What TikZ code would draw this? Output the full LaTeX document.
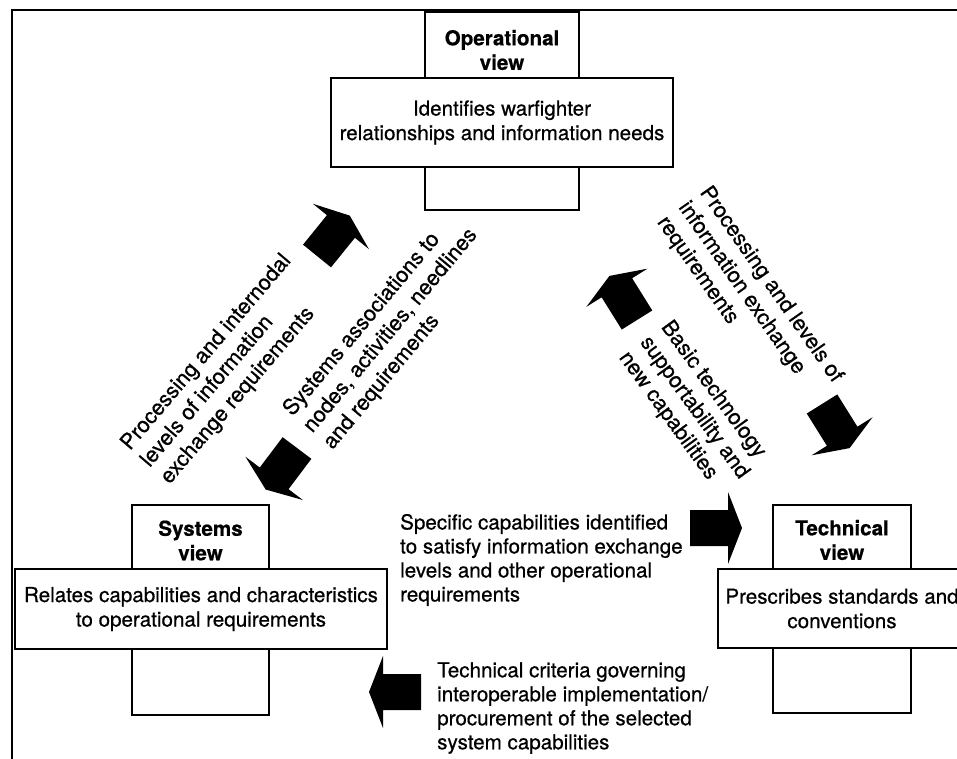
\documentclass[tikz,border=0pt]{standalone}
\usepackage{fontspec}
\setmainfont{TeX Gyre Heros}[FakeBold=0.6]
\begin{document}
\begin{tikzpicture}[x=1pt,y=-1pt,
  boxstyle/.style={draw, line width=1.8, fill=white, inner sep=0},
  titletext/.style={font=\bfseries\fontsize{20.6}{24.5}\selectfont, align=center, inner sep=0},
  desctext/.style={font=\fontsize{20.6}{24.5}\selectfont, align=center, inner sep=0},
  bodytext/.style={font=\fontsize{20.6}{24}\selectfont, align=left, inner sep=0, anchor=west},
  slanttext/.style={font=\fontsize{21.6}{26}\selectfont, align=left, inner sep=0, anchor=west},
  blockarrow/.pic={\fill[black] (0,-18) -- (38,-18) -- (38,-36) -- (52,0) -- (38,36) -- (38,18) -- (0,18) -- cycle;}
]
\useasboundingbox (0,0) rectangle (957,759);
\clip (0,0) rectangle (957,759);
\fill[white] (0,0) rectangle (957,759);
% frame
\coordinate (fbl) at (12,759);
\coordinate (ftl) at (12,10);
\coordinate (ftr) at (957,10);
\draw[line width=2] (fbl) -- (ftl) -- (ftr);

% operational view
\node[boxstyle, minimum width=154, minimum height=198] (optall) at (502,111) {};
\node[boxstyle, minimum width=342, minimum height=89] (opwide) at (502,122.5) {};
\node[titletext] (optitle) at (502,50) {Operational\\view};
\node[desctext] (opdesc) at (opwide.center) {Identifies warfighter\\relationships and information needs};

% systems view
\node[boxstyle, minimum width=137, minimum height=210] (systall) at (200.5,610) {};
\node[boxstyle, minimum width=372, minimum height=80] (syswide) at (201,609) {};
\node[titletext] (systitle) at (200.5,540.5) {Systems\\view};
\node[desctext] (sysdesc) at (syswide.center) {Relates capabilities and characteristics\\to operational requirements};

% technical view
\node[boxstyle, minimum width=138, minimum height=208] (techtall) at (842,609) {};
\node[boxstyle, minimum width=248, minimum height=79] (techwide) at (842,608.5) {};
\node[titletext] (techtitle) at (842,540) {Technical\\view};
\node[desctext] (techdesc) at (techwide.center) {Prescribes standards and\\conventions};

% block arrows
\pic[rotate=51] at (317,256) {blockarrow};
\pic[rotate=233] at (297,448) {blockarrow};
\pic[rotate=122] at (637,320) {blockarrow};
\pic[rotate=-58] at (822,404) {blockarrow};
\pic at (690,528) {blockarrow};
\pic[rotate=180] at (421,692) {blockarrow};

% slanted labels
\node[slanttext, rotate=49.6] (t1) at (145.5,464.5) {Processing and internodal\\levels of information\\exchange requirements};
\node[slanttext, rotate=50.2] (t2) at (308,430) {Systems associations to\\nodes, activities, needlines\\and requirements};
\node[slanttext, rotate=-55] (t3) at (682.5,204) {Processing and levels of\\information exchange\\requirements};
\node[slanttext, rotate=-54] (t4) at (644,339) {Basic technology\\supportability and\\new capabilities};

% horizontal labels
\node[bodytext] (t5) at (400,560) {Specific capabilities identified\\to satisfy information exchange\\levels and other operational\\requirements};
\node[bodytext] (t6) at (437,708) {Technical criteria governing\\interoperable implementation/\\procurement of the selected\\system capabilities};
\end{tikzpicture}
\end{document}
